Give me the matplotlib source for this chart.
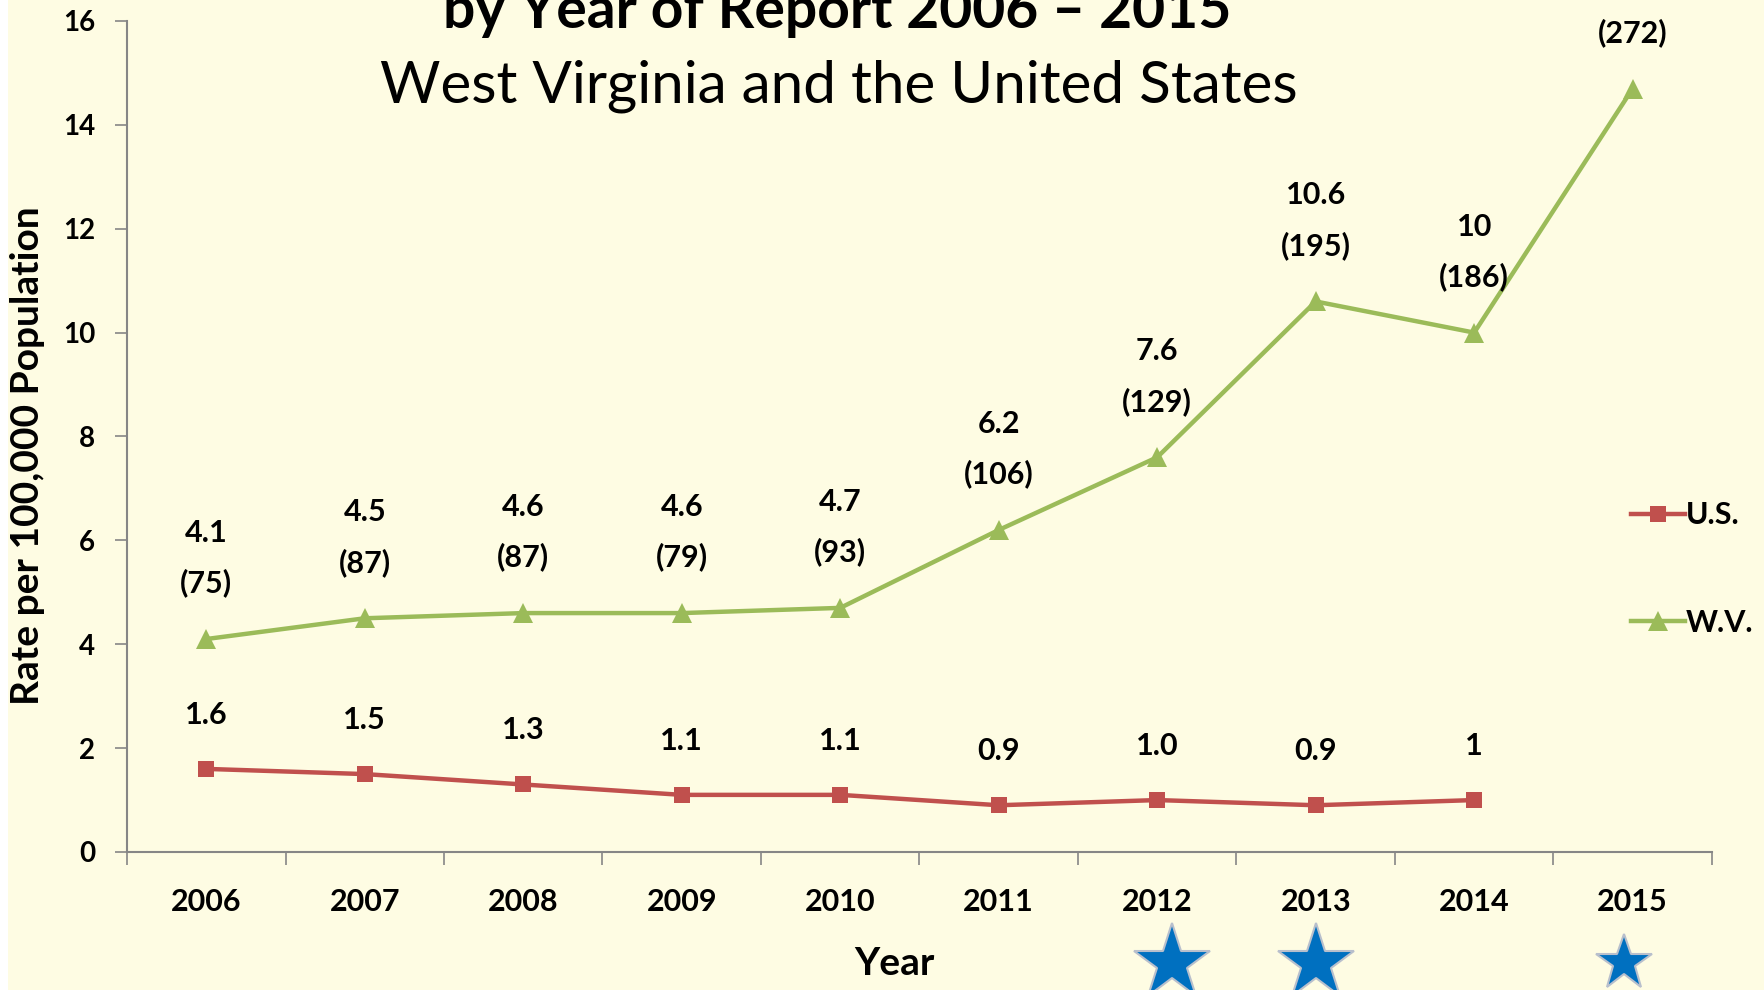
import matplotlib
matplotlib.use('Agg')
import matplotlib.pyplot as plt
from matplotlib.patches import Rectangle
import matplotlib.transforms as mtransforms

# data
years = ['2006', '2007', '2008', '2009', '2010', '2011', '2012', '2013', '2014', '2015']
us_rate = [1.6, 1.5, 1.3, 1.1, 1.1, 0.9, 1.0, 0.9, 1.0]
us_labels = ['1.6', '1.5', '1.3', '1.1', '1.1', '0.9', '1.0', '0.9', '1']
wv_rate = [4.1, 4.5, 4.6, 4.6, 4.7, 6.2, 7.6, 10.6, 10.0, 14.7]
wv_labels = ['4.1', '4.5', '4.6', '4.6', '4.7', '6.2', '7.6', '10.6', '10', '']
wv_counts = ['(75)', '(87)', '(87)', '(79)', '(93)', '(106)', '(129)', '(195)', '(186)', '(272)']
star_years = ['2012', '2013', '2015']
star_sizes = [58, 58, 42]
star_shift = [15, 0, -9]   # pixel nudges, as in the slide

bg = '#FEFCE3'
red = '#C0504D'
green = '#9BBB59'
lab_font = 'Lato'

fig = plt.figure(figsize=(17.64, 9.9), dpi=100, facecolor=bg)
fig.add_artist(Rectangle((0, 0), 8 / 1764, 1, transform=fig.transFigure,
                         facecolor='white', edgecolor='none', zorder=-1))
ax = fig.add_axes([0.072, 0.1394, 0.8985, 0.8394])
ax.set_facecolor(bg)

x = list(range(len(years)))
us_line, = ax.plot(x[:len(us_rate)], us_rate, color=red, lw=3.2, marker='s',
                   markersize=12, markeredgewidth=0, label='U.S.', clip_on=False)
wv_line, = ax.plot(x, wv_rate, color=green, lw=3.2, marker='^',
                   markersize=14, markeredgewidth=0, label='W.V.', clip_on=False)

# data labels
for i, (v, s) in enumerate(zip(us_rate, us_labels)):
    ax.annotate(s, (i, v), xytext=(0, 54), textcoords='offset pixels',
                ha='center', va='center', fontsize=22, fontweight='bold',
                family=lab_font, color='black')
for i, (v, s, c) in enumerate(zip(wv_rate, wv_labels, wv_counts)):
    if s:
        ax.annotate(s, (i, v), xytext=(0, 106), textcoords='offset pixels',
                    ha='center', va='center', fontsize=22, fontweight='bold',
                    family=lab_font, color='black')
    ax.annotate(c, (i, v), xytext=(0, 56), textcoords='offset pixels',
                ha='center', va='center', fontsize=22, fontweight='bold',
                family=lab_font, color='black')

ax.set_xlim(-0.5, len(years) - 0.5)
ax.set_ylim(0, 16)
ax.set_yticks(range(0, 17, 2))
ax.set_xticks(x)
ax.set_xticklabels(years, fontsize=22, fontweight='bold', family=lab_font)
ax.set_xticks([i - 0.5 for i in range(len(years) + 1)], minor=True)
ax.tick_params(axis='x', which='major', length=0, pad=26)
ax.tick_params(axis='x', which='minor', length=9, color='#868686', width=1.2)
ax.tick_params(axis='y', length=9, color='#868686', width=1.2, pad=14)
for t in ax.get_yticklabels():
    t.set_fontsize(20)
    t.set_fontweight('bold')
    t.set_family(lab_font)

for sp in ['top', 'right']:
    ax.spines[sp].set_visible(False)
for sp in ['left', 'bottom']:
    ax.spines[sp].set_color('#868686')
    ax.spines[sp].set_linewidth(1.5)

ax.set_ylabel('Rate per 100,000 Population', fontsize=28, fontweight='bold',
              family=lab_font, va='center')
ax.yaxis.set_label_coords(-0.0625, 0.4765)
ax.set_xlabel('Year', fontsize=28, fontweight='bold', family=lab_font, va='center')
ax.xaxis.set_label_coords(0.484, -0.1336)

# legend
leg = ax.legend(handles=[us_line, wv_line], loc='center left',
                bbox_to_anchor=(0.949, 0.3405), frameon=False,
                prop={'family': lab_font, 'weight': 'bold', 'size': 22},
                handlelength=1.75, handletextpad=0.05, labelspacing=2.6,
                borderaxespad=0, borderpad=0)

# stars under the axis
trans = mtransforms.blended_transform_factory(ax.transData, ax.transAxes)
for yr, sz, dx in zip(star_years, star_sizes, star_shift):
    tr = trans + mtransforms.ScaledTranslation(dx / 100, 0, fig.dpi_scale_trans)
    ax.plot(years.index(yr), -0.133, marker='*', markersize=sz, color='#0070C0',
            markeredgecolor='#B8BFCC', markeredgewidth=1.5, transform=tr,
            clip_on=False, zorder=5)

# titles (top line is cut by the slide edge, as in the original)
fig.text(0.4745, 1 - 28 / 990, 'by Year of Report 2006 \u2013 2015', ha='center',
         va='baseline', fontsize=41, fontweight='bold', family=lab_font)
fig.text(0.4757, 1 - 86 / 990, 'West Virginia and the United States', ha='center',
         va='center', fontsize=42, family=lab_font)

fig.savefig('out.png', dpi=100, facecolor=bg)
